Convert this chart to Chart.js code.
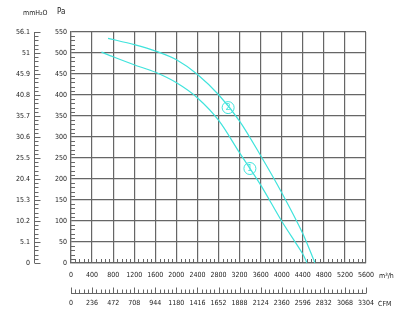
<!DOCTYPE html>
<html><head><meta charset="utf-8">
<script src="https://cdn.jsdelivr.net/npm/chart.js@4"></script>
<style>html,body{margin:0;padding:0;background:#fff}#wrap{width:400px;height:318px;position:relative}</style>
</head><body><div id="wrap"><canvas id="c" width="400" height="318"></canvas></div>
<script>
// ---- data ----
const flowMax = 5600;
const paMax = 550;
const mmLabels = ['0','5.1','10.2','15.3','20.4','25.5','30.6','35.7','40.8','45.9','51','56.1'];
const cfmLabels = ['0','236','472','708','944','1180','1416','1652','1888','2124','2360','2596','2832','3068','3304'];
const curve1Flow = [578, 798, 1197, 1604, 2003, 2402, 2807, 3192, 3599, 3998, 4397, 4480];
const curve1Pa   = [502, 491, 472, 454, 429, 393, 339, 264, 186, 100, 22, 0];
const curve2Flow = [703, 1200, 1623, 2003, 2402, 2807, 3200, 3599, 3998, 4397, 4631];
const curve2Pa   = [535, 520, 504, 484, 449, 400, 338, 256, 168, 71, 0];
const tagNames = ['1', '2'];
const tagFlow  = [3396, 2983];
const tagPa    = [225, 370];

const CYAN = '#3fe3dc';
const GRID = '#666666';
const TXT = '#222';
const FONT = "'Liberation Sans Narrow','DejaVu Sans Condensed','Roboto Condensed','Liberation Sans',sans-serif";
const tickFont = {family: FONT, size: 7};

const pts = (xs, ys) => xs.map((x, i) => ({x, y: ys[i]}));

const extras = {
  id: 'extras',
  afterDraw(chart) {
    const ctx = chart.ctx;
    const {x, y, x2, y2} = chart.scales;
    const ca = chart.chartArea;
    ctx.save();
    ctx.strokeStyle = GRID;
    ctx.lineWidth = 1;
    ctx.beginPath();
    for (let v = 10; v < paMax; v += 10) {
      if (v % 50 === 0) continue;
      const py = Math.round(y.getPixelForValue(v)) + 0.5;
      ctx.moveTo(ca.left, py); ctx.lineTo(ca.left + 4, py);
    }
    for (let v = 80; v < flowMax; v += 80) {
      if (v % 400 === 0) continue;
      const px = Math.round(x.getPixelForValue(v)) + 0.5;
      ctx.moveTo(px, ca.bottom); ctx.lineTo(px, ca.bottom - 4);
    }
    const ax = Math.round(y2.right) + 0.5;
    ctx.moveTo(ax, y2.getPixelForValue(0)); ctx.lineTo(ax, y2.getPixelForValue(56.1));
    for (let i = 0; i <= 55; i++) {
      const v = i * 1.02;
      const py = Math.round(y2.getPixelForValue(v)) + 0.5;
      const len = (i % 5 === 0) ? 6 : 4;
      ctx.moveTo(ax, py); ctx.lineTo(ax + len, py);
    }
    const ay = Math.round(x2.top + 8) + 0.5;
    ctx.moveTo(x2.getPixelForValue(0), ay); ctx.lineTo(x2.getPixelForValue(3304), ay);
    for (let i = 0; i <= 70; i++) {
      const v = i * 47.2;
      const px = Math.round(x2.getPixelForValue(v)) + 0.5;
      const len = (i % 5 === 0) ? 6 : 4;
      ctx.moveTo(px, ay); ctx.lineTo(px, ay - len);
    }
    ctx.stroke();

    const meta = chart.getDatasetMeta(2);
    ctx.fillStyle = CYAN;
    ctx.font = '9px ' + FONT;
    ctx.textAlign = 'center';
    ctx.textBaseline = 'middle';
    meta.data.forEach((el, i) => ctx.fillText(tagNames[i], el.x, el.y + 0.5));

    ctx.fillStyle = TXT;
    ctx.font = '7px ' + FONT;
    ctx.textAlign = 'left';
    ctx.fillText('mmH₂O', 23, 13);
    ctx.font = '8px ' + FONT;
    ctx.fillText('Pa', 57, 12);
    ctx.font = '7px ' + FONT;
    ctx.fillText('m³/h', 379, 276);
    ctx.fillText('CFM', 378, 304);
    ctx.restore();
  }
};

new Chart(document.getElementById('c'), {
  type: 'scatter',
  data: {
    datasets: [
      {data: pts(curve1Flow, curve1Pa), showLine: true, borderColor: CYAN, borderWidth: 1.2, pointRadius: 0, tension: 0.3, xAxisID: 'x', yAxisID: 'y'},
      {data: pts(curve2Flow, curve2Pa), showLine: true, borderColor: CYAN, borderWidth: 1.2, pointRadius: 0, tension: 0.3, xAxisID: 'x', yAxisID: 'y'},
      {data: pts(tagFlow, tagPa), showLine: false, pointRadius: 6, pointBackgroundColor: '#fff', pointBorderColor: CYAN, pointBorderWidth: 1, xAxisID: 'x', yAxisID: 'y'}
    ]
  },
  options: {
    responsive: false,
    devicePixelRatio: 1,
    animation: false,
    events: [],
    layout: {padding: {left: 0, right: 34, top: 32, bottom: 0}},
    plugins: {legend: {display: false}, tooltip: {enabled: false}},
    scales: {
      x: {
        type: 'linear', position: 'bottom', weight: 0, min: 0, max: flowMax,
        ticks: {stepSize: 400, autoSkip: false, maxRotation: 0, font: tickFont, color: TXT, padding: 8,
          callback: v => String(v)},
        grid: {color: GRID, lineWidth: 1.2, drawTicks: false},
        border: {color: GRID, width: 1.2},
        afterFit: s => { s.height = 22; }
      },
      x2: {
        type: 'linear', position: 'bottom', weight: 1, min: 0, max: 3304, display: true,
        afterBuildTicks: s => { s.ticks = cfmLabels.map(l => ({value: Number(l)})); },
        ticks: {autoSkip: false, maxRotation: 0, font: tickFont, color: TXT, padding: 14,
          callback: (v, i) => cfmLabels[i]},
        grid: {display: false, drawTicks: false},
        border: {display: false},
        afterFit: s => { s.height = 33; }
      },
      y: {
        type: 'linear', position: 'left', weight: 0, min: 0, max: paMax,
        ticks: {stepSize: 50, autoSkip: false, font: tickFont, color: TXT, padding: 4,
          callback: v => String(v)},
        grid: {color: GRID, lineWidth: 1.2, drawTicks: false},
        border: {color: GRID, width: 1.2},
        afterFit: s => { s.width = 37; }
      },
      y2: {
        type: 'linear', position: 'left', weight: 1, min: 0, max: 56.1, display: true,
        afterBuildTicks: s => { s.ticks = mmLabels.map(l => ({value: Number(l)})); },
        ticks: {autoSkip: false, font: tickFont, color: TXT, padding: 4,
          callback: (v, i) => mmLabels[i]},
        grid: {display: false, drawTicks: false},
        border: {display: false},
        afterFit: s => { s.width = 34; }
      }
    }
  },
  plugins: [extras]
});
</script>
</body></html>
